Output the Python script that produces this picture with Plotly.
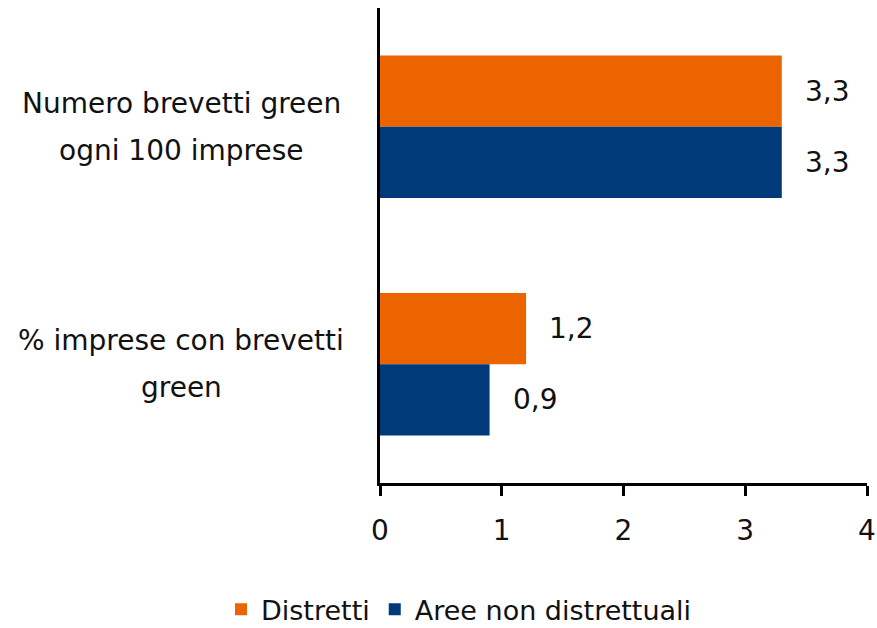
import plotly.graph_objects as go

categories = ["Numero brevetti green<br>ogni 100 imprese", "% imprese con brevetti<br>green"]
distretti = [3.3, 1.2]
aree_non = [3.3, 0.9]
tick_vals = [0, 1, 2, 3, 4]

ORANGE = "#EC6400"
BLUE = "#003A78"
FONT = "DejaVu Sans"
TXT = "#111111"

fig = go.Figure()
fig.add_trace(go.Bar(y=categories, x=distretti, name="Distretti", orientation="h",
                     marker=dict(color=ORANGE, line=dict(width=0))))
fig.add_trace(go.Bar(y=categories, x=aree_non, name="Aree non distrettuali", orientation="h",
                     marker=dict(color=BLUE, line=dict(width=0))))

annotations = []
# value labels
for i, cat in enumerate(categories):
    for val, shift in ((distretti[i], -0.15), (aree_non[i], 0.15)):
        annotations.append(dict(x=val, y=i + shift, xref="x", yref="y",
                                text=f"{val:.1f}".replace(".", ","),
                                showarrow=False, xanchor="left", xshift=21,
                                font=dict(family=FONT, size=28, color=TXT)))
# category labels (centered, one annotation per line for wider line spacing)
for i, cat in enumerate(categories):
    lines = cat.split("<br>")
    n = len(lines)
    for j, line in enumerate(lines):
        annotations.append(dict(x=0, y=i, xref="paper", yref="y", text=line, showarrow=False,
                                xanchor="center", xshift=-199,
                                yshift=(n - 1) / 2 * 47 - j * 47,
                                font=dict(family=FONT, size=28, color=TXT)))

fig.update_layout(
    width=877, height=628,
    margin=dict(l=380, r=10, t=8, b=145),
    paper_bgcolor="white", plot_bgcolor="white",
    barmode="group", bargap=0.4, bargroupgap=0,
    separators=",.",
    font=dict(family=FONT, size=28, color=TXT),
    showlegend=True,
    legend=dict(orientation="h", xref="container", yref="container", x=0.252, y=0.029,
                xanchor="left", yanchor="middle", traceorder="normal",
                font=dict(family=FONT, size=27, color=TXT)),
    annotations=annotations,
    xaxis=dict(range=[0, 4], tickvals=tick_vals, showgrid=False, zeroline=False,
               showline=True, linecolor="black", linewidth=3, automargin=False,
               ticks="outside", ticklen=10, tickwidth=3, tickcolor="black",
               ticklabelstandoff=10,
               tickfont=dict(family=FONT, size=28, color=TXT)),
    yaxis=dict(autorange="reversed", showticklabels=False, showgrid=False, zeroline=False,
               automargin=False,
               showline=True, linecolor="black", linewidth=3, ticks=""),
)

fig.write_html("out.html", config={"displayModeBar": False},
               post_script="document.body.style.margin='0';")
